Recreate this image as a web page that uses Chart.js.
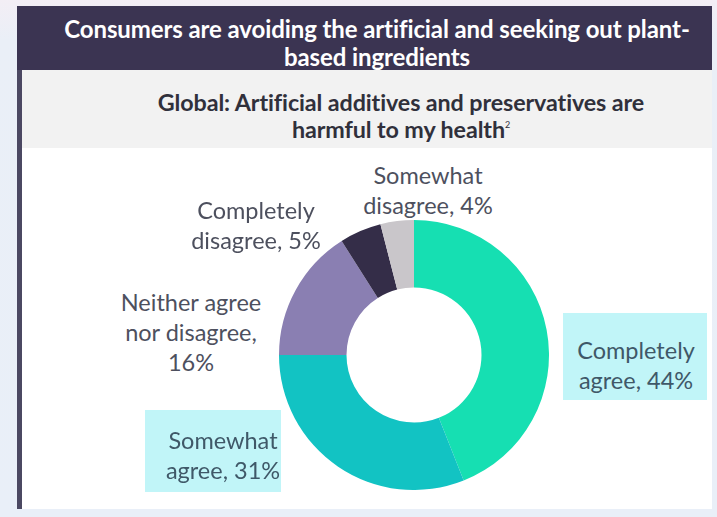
<!DOCTYPE html>
<html>
<head>
<meta charset="utf-8">
<script src="https://cdn.jsdelivr.net/npm/chart.js@4.4.1/dist/chart.umd.min.js"></script>
<style>
  html, body { margin: 0; padding: 0; }
  body {
    width: 717px; height: 517px; overflow: hidden; position: relative;
    background: linear-gradient(180deg, #f3eef5 0px, #eaeff7 40px, #e9eff8 517px);
    font-family: Lato, "Open Sans", sans-serif;
  }
  #card {
    position: absolute; left: 17px; top: 6px; width: 695px; height: 503px;
    background: #ffffff; border-left: 5px solid #4b4862; box-sizing: border-box;
  }
  #header {
    position: absolute; left: 17px; top: 6px; width: 695px; height: 64px;
    background: #3b3452; color: #ffffff; font-weight: 700; font-size: 24px;
    line-height: 28px; text-align: center; box-sizing: border-box; padding: 9px 0 0 25px;
    letter-spacing: -0.1px;
  }
  #subtitle {
    position: absolute; left: 22px; top: 70px; width: 690px; height: 78px;
    background: #f2f2f2; color: #30303b; font-weight: 700; font-size: 23.3px;
    line-height: 27px; text-align: center; box-sizing: border-box; padding: 19px 0 0 68px;
    letter-spacing: -0.1px;
  }
  #subtitle sup { font-size: 9px; font-weight: 400; vertical-align: 10px; line-height: 0; }
  #chartBox { position: absolute; left: 279px; top: 220px; width: 270px; height: 270px; }
  .lbl {
    position: absolute; color: #4d505e; font-size: 23.5px; line-height: 30px;
    text-align: center; white-space: nowrap; transform: translate(-50%, 0);
  }
  .box { position: absolute; background: #c1f5f8; }
  .boxed { color: #3f5868; }
</style>
</head>
<body>
<div id="card"></div>
<div id="header">Consumers are avoiding the artificial and seeking out plant-<br>based ingredients</div>
<div id="subtitle">Global: Artificial additives and preservatives are<br>harmful to my health<sup>2</sup></div>
<div class="box" style="left:563px; top:313px; width:144px; height:87px;"></div>
<div class="box" style="left:145px; top:410px; width:136px; height:82px;"></div>
<div id="chartBox"><canvas id="c"></canvas></div>
<script>
// Survey answers, clockwise from twelve o'clock
const categories = ['Completely agree', 'Somewhat agree', 'Neither agree nor disagree', 'Completely disagree', 'Somewhat disagree'];
const shares = [44, 31, 16, 5, 4];
const sliceColors = ['#16dfb2', '#12c3c3', '#8a7fb2', '#342d48', '#c9c6ca'];

// How each answer's caption wraps (word counts per line; the value goes on the last line)
const captionWords = [[1, 1], [1, 1], [2, 2], [1, 1], [1, 1]];
// Caption anchors: centre x and top y of the first line
const captionAt = [
  { x: 636, y: 335, boxed: true },
  { x: 223, y: 425, boxed: true },
  { x: 191, y: 287, boxed: false },
  { x: 256, y: 195, boxed: false },
  { x: 428, y: 160, boxed: false }
];

function captionLines(i) {
  const words = categories[i].split(' ');
  const lines = [];
  let k = 0;
  captionWords[i].forEach(n => { lines.push(words.slice(k, k + n).join(' ')); k += n; });
  const last = lines.pop();
  const tail = last + ', ' + shares[i] + '%';
  // Long answers put the value on its own line
  if (tail.length > 14) { lines.push(last + ','); lines.push(shares[i] + '%'); }
  else lines.push(tail);
  return lines;
}

categories.forEach((c, i) => {
  const d = document.createElement('div');
  d.className = 'lbl' + (captionAt[i].boxed ? ' boxed' : '');
  d.style.left = captionAt[i].x + 'px';
  d.style.top = captionAt[i].y + 'px';
  d.innerHTML = captionLines(i).join('<br>');
  document.body.appendChild(d);
});

new Chart(document.getElementById('c'), {
  type: 'doughnut',
  data: {
    labels: categories,
    datasets: [{
      data: shares,
      backgroundColor: sliceColors,
      borderWidth: 0,
      hoverOffset: 0,
      offset: 0
    }]
  },
  options: {
    responsive: true,
    maintainAspectRatio: false,
    animation: false,
    cutout: '50%',
    rotation: 0,
    layout: { padding: 0 },
    plugins: { legend: { display: false }, tooltip: { enabled: false } },
    events: []
  }
});
</script>
</body>
</html>
